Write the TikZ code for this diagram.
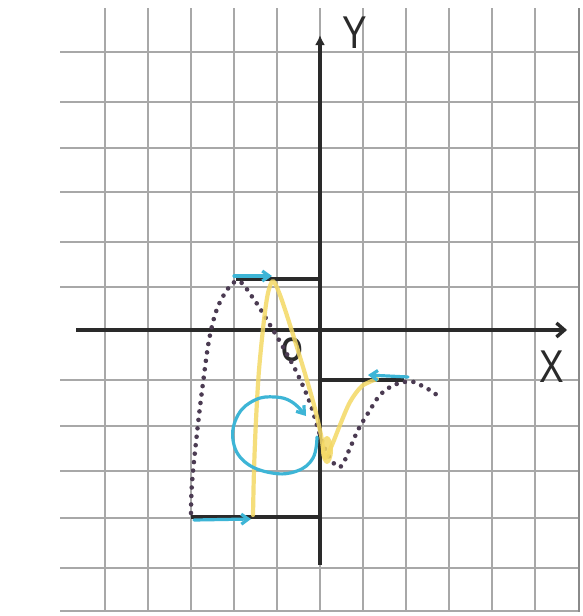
\documentclass[tikz,border=0pt]{standalone}
\usepackage{fontspec}
\setmainfont{Liberation Sans}
\usetikzlibrary{arrows.meta}
\definecolor{gridc}{HTML}{A8A8A8}
\definecolor{edgec}{HTML}{8A8A8A}
\definecolor{axc}{HTML}{2A2A2A}
\definecolor{dotc}{HTML}{4B3B52}
\definecolor{yel}{HTML}{F4D965}
\definecolor{blu}{HTML}{3DB5D6}
\begin{document}
\begin{tikzpicture}[x=1pt,y=-1pt,
  gridline/.style={gridc,line width=1.5pt},
  axis/.style={axc,line width=3.4pt},
  seg/.style={axc,line width=3.4pt},
  dotcurve/.style={dotc,line width=4.6pt,line cap=round,dash pattern=on 0pt off 8.5pt},
  yelcurve/.style={yel,line width=4.2pt,line cap=round,line join=round},
  blucurve/.style={blu,line width=3.2pt,line cap=round},
  blutip/.style={-{Straight Barb[length=7pt,width=10pt]}},
  lab/.style={inner sep=0pt,text=axc,font=\fontsize{46}{46}\selectfont}]
\useasboundingbox (0,0) rectangle (583,616);
\fill[white] (0,0) rectangle (583,616);
% grid
\foreach \x in {105,148,...,535} \draw[gridline] (\x,8) -- (\x,611);
\foreach \y in {52,102,148,192,242,287,380,426,471,518,568,611} \draw[gridline] (60,\y) -- (578,\y);
\draw[edgec,line width=2pt] (579,8) -- (579,612);
% axes
\coordinate (yb) at (320,565);
\coordinate (yt) at (320,35);
\coordinate (xl) at (76,330);
\coordinate (xr) at (567,330);
\draw[axis,-{Latex[length=10pt,width=10pt]}] (yb) -- (yt);
\draw[axis,-{Straight Barb[length=8pt,width=14pt]}] (xl) -- (xr);
\node[lab] (ly) at (355,33) {\scalebox{0.8}[1]{Y}};
\node[lab] (lx) at (552,367) {\scalebox{0.8}[1]{X}};
\node[inner sep=0pt,text=axc,font=\fontsize{34}{34}\selectfont\bfseries] (lo) at (292,350) {\scalebox{0.8}[1]{O}};
% black segments
\coordinate (t1) at (236,279);
\coordinate (t2) at (320,279);
\coordinate (b1) at (191,517);
\coordinate (b2) at (320,517);
\coordinate (r1) at (320,380);
\coordinate (r2) at (404,380);
\draw[seg] (t1) -- (t2);
\draw[seg] (b1) -- (b2);
\draw[seg] (r1) -- (r2);
% dotted curve
\draw[dotcurve] plot[smooth,tension=0.6] coordinates {(191,513) (192,483) (197,433) (203,383) (210,335) (220,302) (237,281) (253,298) (270,325) (283,347) (297,373) (310,403) (320,435) (328,455) (340,467) (350,448) (358,430) (370,410) (380,395) (392,386) (404,382) (414,382) (424,387) (433,392) (441,399)};
% yellow curve
\fill[yel,opacity=0.85] (327,450) ellipse (6 and 14);
\draw[yelcurve,opacity=0.85] plot[smooth,tension=0.5] coordinates {(253,515) (254,470) (256,420) (259,370) (264,320) (268,293) (273,281) (280,295) (290,325) (303,367) (314,405) (321,435) (325,458) (332,445) (340,425) (350,402) (362,386) (377,379)};
% blue arrows
\coordinate (ta) at (234,276);
\coordinate (tb) at (272,276);
\coordinate (ba) at (194,520);
\coordinate (bb) at (251,519);
\coordinate (ra) at (408,377);
\coordinate (rb) at (368,375);
\draw[blucurve,blutip] (ta) -- (tb);
\draw[blucurve,blutip] (ba) -- (bb);
\draw[blucurve,blutip] (ra) -- (rb);
\draw[blucurve,blutip] plot[smooth,tension=0.7] coordinates {(317,437) (313,458) (297,471) (272,473) (245,462) (233,440) (238,415) (255,400) (275,397) (292,402) (306,416)};
\end{tikzpicture}
\end{document}
